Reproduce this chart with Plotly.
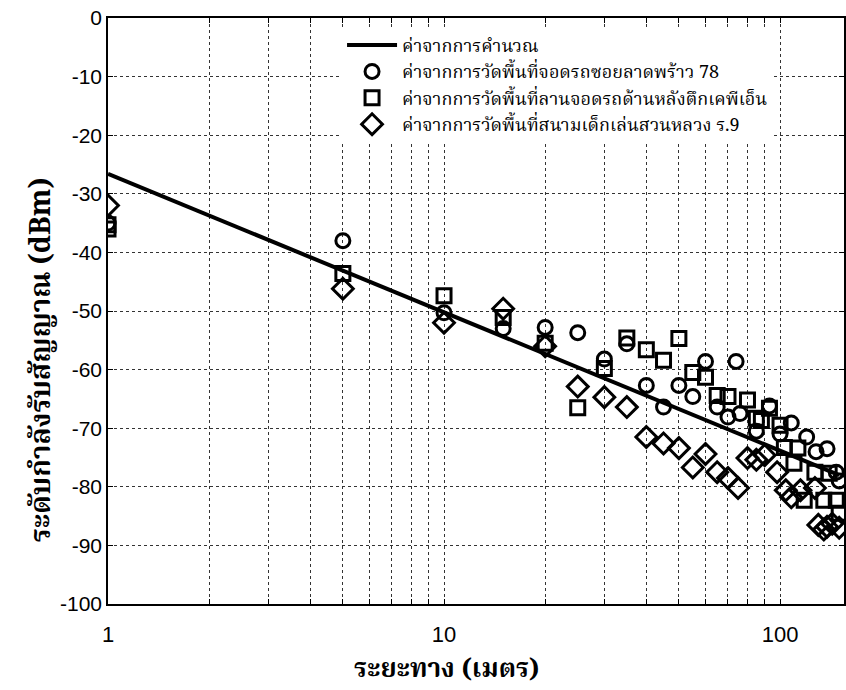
import numpy as np
import plotly.graph_objects as go

# Calculated path-loss line
calc_d = [1, 150]
calc_p = [-26.6, -78.0]

# Ladprao 78 (circles)
lad_d = [1, 5, 10, 15, 20, 25, 30, 35, 40, 45, 50, 55, 60, 65, 70, 74, 76, 85, 93, 100, 108, 120, 128, 138, 147, 150]
lad_p = [-35.0, -38.0, -50.3, -53.0, -52.8, -53.7, -58.2, -55.6, -62.7, -66.4, -62.7, -64.6, -58.6, -66.4, -68.1,
         -58.6, -67.5, -70.5, -66.2, -71.0, -69.1, -71.5, -74.0, -73.5, -77.5, -79.0]

# KPN parking (squares)
kpn_d = [1, 1, 5, 10, 15, 20, 25, 30, 35, 40, 45, 50, 55, 60, 65, 70, 80, 85, 88, 93, 100, 103, 110, 113, 118,
         127, 135, 140, 147, 150]
kpn_p = [-36.0, -35.3, -43.6, -47.4, -51.1, -55.5, -66.5, -59.8, -54.6, -56.6, -58.4, -54.7, -60.5, -61.3, -64.4,
         -64.6, -65.2, -68.3, -68.7, -66.6, -69.5, -73.3, -76.0, -73.4, -82.3, -77.5, -82.3, -77.7, -82.3, -84.5]

# Suan Luang R.9 (diamonds)
sl_d = [1, 5, 10, 15, 20, 25, 30, 35, 40, 45, 50, 55, 60, 65, 70, 75, 80, 85, 90, 98, 104, 108, 115, 127, 130,
        135, 138, 143, 150]
sl_p = [-32.0, -46.2, -52.0, -49.6, -56.0, -62.9, -64.7, -66.4, -71.5, -72.6, -73.4, -76.7, -74.4, -77.5, -78.5,
        -80.2, -75.1, -75.4, -74.6, -77.5, -80.6, -81.8, -80.6, -80.2, -86.5, -87.3, -86.8, -86.3, -87.0]

names = ["ค่าจากการคำนวณ",
         "ค่าจากการวัดพื้นที่จอดรถซอยลาดพร้าว 78",
         "ค่าจากการวัดพื้นที่ลานจอดรถด้านหลังตึกเคพีเอ็น",
         "ค่าจากการวัดพื้นที่สนามเด็กเล่นสวนหลวง ร.9"]
x_title = "ระยะทาง (เมตร)"
y_title = "ระดับกำลังรับสัญญาณ (dBm)"

x_major = [1, 10, 100]
x_grid = [1, 2, 3, 4, 5, 6, 7, 8, 9, 10, 20, 30, 40, 50, 60, 70, 80, 90, 100]
y_ticks = list(range(-100, 1, 10))

thai = "Noto Serif Thai, Noto Sans Thai, Tlwg Typo, Garuda, Loma, Norasi, serif"

fig = go.Figure()
fig.add_trace(go.Scatter(x=calc_d, y=calc_p, mode="lines", name=names[0],
                         line=dict(color="black", width=4)))
fig.add_trace(go.Scatter(x=lad_d, y=lad_p, mode="markers", name=names[1],
                         marker=dict(symbol="circle-open", size=14, color="black",
                                     line=dict(color="black", width=3))))
fig.add_trace(go.Scatter(x=kpn_d, y=kpn_p, mode="markers", name=names[2],
                         marker=dict(symbol="square-open", size=14, color="black",
                                     line=dict(color="black", width=3))))
fig.add_trace(go.Scatter(x=sl_d, y=sl_p, mode="markers", name=names[3],
                         marker=dict(symbol="diamond-open", size=16, color="black",
                                     line=dict(color="black", width=3))))

fig.update_layout(
    width=846, height=690,
    margin=dict(l=108, r=0, t=18, b=86),
    paper_bgcolor="white", plot_bgcolor="white",
    showlegend=True,
    legend=dict(x=0.318, y=0.985, xanchor="left", yanchor="top",
                bgcolor="white", borderwidth=0,
                font=dict(family=thai, size=18, color="black"),
                tracegroupgap=0, itemwidth=50),
    xaxis=dict(type="log", range=[0, np.log10(155)],
               tickvals=x_grid,
               ticktext=[str(v) if v in x_major else "" for v in x_grid],
               ticks="inside", ticklen=5, tickcolor="black",
               ticklabelstandoff=10,
               showgrid=True, gridcolor="#333", griddash="dot", gridwidth=1,
               showline=True, linecolor="black", linewidth=1.5, mirror="ticks",
               zeroline=False,
               tickfont=dict(family="Liberation Sans, Arial", size=22, color="black")),
    yaxis=dict(range=[-100, 0], tickvals=y_ticks, ticktext=[str(v) for v in y_ticks],
               ticks="inside", ticklen=5, tickcolor="black",
               showgrid=True, gridcolor="#333", griddash="dot", gridwidth=1,
               showline=True, linecolor="black", linewidth=1.5, mirror="ticks",
               zeroline=False,
               tickfont=dict(family="Liberation Sans, Arial", size=21, color="black")),
    annotations=[
        dict(text="<b>" + x_title + "</b>", xref="paper", yref="paper",
             x=(447 - 108) / 738, y=-(670 - 604) / 586, xanchor="center", yanchor="middle",
             showarrow=False, font=dict(family=thai, size=26, color="black")),
        dict(text="<b>" + y_title + "</b>", xref="paper", yref="paper",
             x=-(108 - 42) / 738, y=(604 - 360) / 586, xanchor="center", yanchor="middle",
             textangle=-90, showarrow=False, font=dict(family=thai, size=28, color="black")),
    ],
)

fig.write_html("out.html")
